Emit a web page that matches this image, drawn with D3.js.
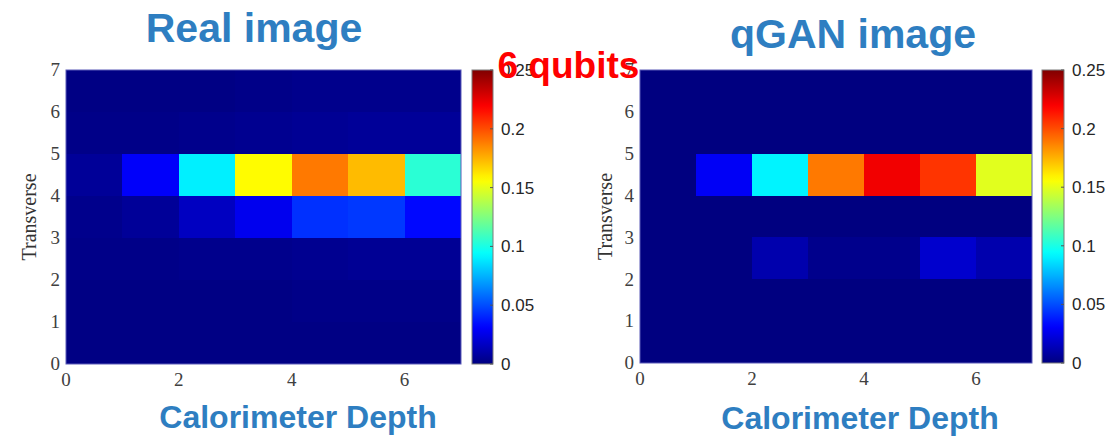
<!DOCTYPE html>
<html>
<head>
<meta charset="utf-8">
<script src="https://cdn.jsdelivr.net/npm/d3@7"></script>
<style>
  html, body { margin: 0; padding: 0; background: #fff; }
  svg { display: block; }
</style>
</head>
<body>
<svg id="chart" width="1119" height="437"></svg>
<script>
// ---- data ----
const depth = [0, 1, 2, 3, 4, 5, 6];          // calorimeter depth bins (columns)
const transverse = [0, 1, 2, 3, 4, 5, 6];     // transverse bins (rows)
const xTicks = [0, 2, 4, 6];
const yTicks = [0, 1, 2, 3, 4, 5, 6, 7];
const cbTicks = [0, 0.05, 0.1, 0.15, 0.2, 0.25];
const cbTickLabels = ["0", "0.05", "0.1", "0.15", "0.2", "0.25"];

// values[row = transverse][col = depth]
const realImage = [
  [0.001, 0.001, 0.001, 0.001, 0.001, 0.001, 0.001],
  [0.001, 0.001, 0.001, 0.001, 0.002, 0.002, 0.002],
  [0.002, 0.002, 0.003, 0.003, 0.004, 0.005, 0.005],
  [0.003, 0.006, 0.016, 0.027, 0.043, 0.045, 0.033],
  [0.006, 0.030, 0.090, 0.157, 0.189, 0.173, 0.104],
  [0.002, 0.002, 0.003, 0.004, 0.005, 0.006, 0.006],
  [0.001, 0.001, 0.001, 0.002, 0.003, 0.003, 0.003]
];
const qganImage = [
  [0, 0, 0, 0, 0, 0, 0],
  [0, 0, 0, 0, 0, 0, 0],
  [0, 0, 0.011, 0.003, 0.003, 0.019, 0.011],
  [0, 0, 0, 0, 0, 0, 0],
  [0, 0.029, 0.091, 0.189, 0.222, 0.206, 0.149],
  [0, 0, 0, 0, 0, 0, 0],
  [0, 0, 0, 0, 0, 0, 0]
];

const titles = ["Real image", "qGAN image"];
const xLabel = "Calorimeter Depth";
const yLabel = "Transverse";
const overlayLabel = "6 qubits";

// ---- jet colormap ----
const jet = d3.scaleLinear()
  .domain([0, 0.03125, 0.09375, 0.15625, 0.21875, 0.25])
  .range(["#000080", "#0000ff", "#00ffff", "#ffff00", "#ff0000", "#800000"])
  .clamp(true);

const svg = d3.select("#chart");
const defs = svg.append("defs");
const grad = defs.append("linearGradient").attr("id", "jetgrad")
  .attr("x1", 0).attr("y1", 1).attr("x2", 0).attr("y2", 0);
d3.range(0, 1.0001, 0.02).forEach(t => {
  grad.append("stop").attr("offset", t).attr("stop-color", jet(t * 0.25));
});

const panels = [
  { data: realImage, title: titles[0], x0: 66, x1: 461, y0: 70, y1: 364,
    cbx: 472, cbw: 21, titleX: 254, titleY: 42, xlabX: 298, xlabY: 428, ylabX: 29 },
  { data: qganImage, title: titles[1], x0: 640, x1: 1032, y0: 70, y1: 363,
    cbx: 1042, cbw: 22, titleX: 853, titleY: 48, xlabX: 860, xlabY: 429, ylabX: 605 }
];

const serif = "'Liberation Serif', 'DejaVu Serif', serif";
const sans = "'Liberation Sans', Arial, sans-serif";

panels.forEach(p => {
  const g = svg.append("g");
  const x = d3.scaleLinear().domain([0, 7]).range([p.x0, p.x1]);
  const y = d3.scaleLinear().domain([0, 7]).range([p.y1, p.y0]);

  const cells = [];
  transverse.forEach((r, ri) => depth.forEach((c, ci) => {
    cells.push({ c, r, v: p.data[ri][ci] });
  }));
  g.selectAll("rect.cell").data(cells).join("rect")
    .attr("class", "cell")
    .attr("shape-rendering", "crispEdges")
    .attr("x", d => Math.round(x(d.c)))
    .attr("y", d => Math.round(y(d.r + 1)))
    .attr("width", d => Math.round(x(d.c + 1)) - Math.round(x(d.c)))
    .attr("height", d => Math.round(y(d.r)) - Math.round(y(d.r + 1)))
    .attr("fill", d => jet(d.v));

  g.append("rect")
    .attr("x", p.x0).attr("y", p.y0)
    .attr("width", p.x1 - p.x0).attr("height", p.y1 - p.y0)
    .attr("fill", "none").attr("stroke", "#5a5ab8").attr("stroke-width", 1);

  // y ticks
  g.selectAll("text.yt").data(yTicks).join("text")
    .attr("class", "yt")
    .attr("x", p.x0 - 6).attr("y", d => y(d))
    .attr("dy", "0.33em")
    .attr("text-anchor", "end")
    .attr("font-family", serif).attr("font-size", 19)
    .attr("fill", "#404040")
    .text(d => d);

  // x ticks
  g.selectAll("text.xt").data(xTicks).join("text")
    .attr("class", "xt")
    .attr("x", d => x(d)).attr("y", p.y1 + 22)
    .attr("text-anchor", "middle")
    .attr("font-family", serif).attr("font-size", 19)
    .attr("fill", "#404040")
    .text(d => d);

  // y label
  g.append("text")
    .attr("transform", `translate(${p.ylabX},${(p.y0 + p.y1) / 2}) rotate(-90)`)
    .attr("dy", "0.35em")
    .attr("text-anchor", "middle")
    .attr("font-family", serif).attr("font-size", 20)
    .attr("fill", "#333")
    .text(yLabel);

  // colorbar
  const cy = d3.scaleLinear().domain([0, 0.25]).range([p.y1, p.y0]);
  g.append("rect")
    .attr("x", p.cbx).attr("y", p.y0)
    .attr("width", p.cbw).attr("height", p.y1 - p.y0)
    .attr("fill", "url(#jetgrad)")
    .attr("stroke", "#7a7a7a").attr("stroke-width", 1);
  g.selectAll("line.cbt").data(cbTicks).join("line")
    .attr("class", "cbt")
    .attr("x1", p.cbx + p.cbw - 3).attr("x2", p.cbx + p.cbw)
    .attr("y1", d => cy(d)).attr("y2", d => cy(d))
    .attr("stroke", "#555").attr("stroke-width", 1);
  g.selectAll("text.cbl").data(cbTicks).join("text")
    .attr("class", "cbl")
    .attr("x", p.cbx + p.cbw + 8).attr("y", d => cy(d))
    .attr("dy", "0.35em")
    .attr("font-family", sans).attr("font-size", 17)
    .attr("fill", "#262626")
    .text((d, i) => cbTickLabels[i]);

  // title
  svg.append("text")
    .attr("x", p.titleX).attr("y", p.titleY)
    .attr("text-anchor", "middle")
    .attr("font-family", sans).attr("font-weight", "bold").attr("font-size", 41)
    .attr("fill", "#2E7EC1")
    .text(p.title);

  // x label
  svg.append("text")
    .attr("x", p.xlabX).attr("y", p.xlabY)
    .attr("text-anchor", "middle")
    .attr("font-family", sans).attr("font-weight", "bold").attr("font-size", 32)
    .attr("fill", "#2E7EC1")
    .text(xLabel);
});

// overlay label
svg.append("text")
  .attr("x", 497.5).attr("y", 78)
  .attr("font-family", sans).attr("font-weight", "bold").attr("font-size", 37)
  .attr("fill", "#ff0000")
  .text(overlayLabel);
</script>
</body>
</html>
